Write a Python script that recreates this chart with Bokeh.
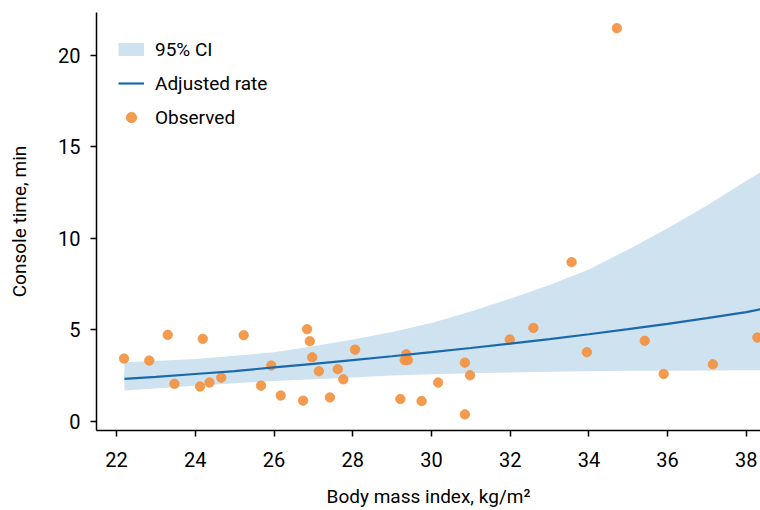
from bokeh.plotting import figure
from bokeh.models import Range1d, FixedTicker, Legend, LegendItem
from bokeh.embed import file_html
from bokeh.resources import INLINE

# Observed points
obs_bmi = [22.19, 22.83, 23.30, 23.47, 24.12, 24.19, 24.36, 24.66, 25.23, 25.67,
           25.93, 26.17, 26.74, 26.84, 26.91, 26.97, 27.14, 27.42, 27.62, 27.76,
           28.06, 29.36, 29.32, 29.40, 29.21, 29.75, 30.17, 30.85, 30.98, 30.85,
           31.99, 32.59, 33.56, 33.95, 35.42, 35.90, 37.15, 38.28, 34.71]
obs_time = [3.43, 3.32, 4.73, 2.05, 1.90, 4.51, 2.12, 2.39, 4.71, 1.95,
            3.05, 1.41, 1.13, 5.04, 4.38, 3.50, 2.74, 1.31, 2.85, 2.30,
            3.92, 3.67, 3.35, 3.35, 1.22, 1.11, 2.12, 3.21, 2.52, 0.38,
            4.47, 5.11, 8.70, 3.78, 4.40, 2.59, 3.12, 4.58, 21.49]

# Fitted curve and 95% CI
fit_bmi = [22.2, 23, 24, 25, 26, 27, 28, 29, 30, 31, 32, 33, 34, 35, 36, 37, 38, 38.36]
fit_rate = [2.32, 2.43, 2.59, 2.75, 2.95, 3.14, 3.35, 3.56, 3.78, 4.01, 4.25, 4.50,
            4.76, 5.04, 5.33, 5.64, 5.97, 6.13]
ci_low = [1.68, 1.80, 1.95, 2.08, 2.20, 2.30, 2.40, 2.50, 2.57, 2.63, 2.67, 2.71,
          2.74, 2.76, 2.77, 2.78, 2.80, 2.80]
ci_high = [3.23, 3.30, 3.41, 3.58, 3.78, 4.10, 4.48, 4.88, 5.38, 6.00, 6.70, 7.45,
           8.30, 9.40, 10.55, 11.80, 13.15, 13.62]

x_ticks = [22, 24, 26, 28, 30, 32, 34, 36, 38]
y_ticks = [0, 5, 10, 15, 20]

FONT = "Roboto"
BAND = "#cfe2f0"

p = figure(width=760, height=510, output_backend="svg", toolbar_location=None,
           x_range=Range1d(21.49, 38.36), y_range=Range1d(-0.5, 22.35),
           min_border_left=96, min_border_right=0, min_border_top=12,
           min_border_bottom=80)
p.outline_line_color = None
p.xgrid.visible = False
p.ygrid.visible = False

# legend swatch for the CI band: a thick line along the fit, fully hidden beneath the band
ci_key = p.line(x=fit_bmi, y=fit_rate, line_color=BAND, line_width=13)
band = p.varea(x=fit_bmi, y1=ci_low, y2=ci_high, fill_color=BAND, fill_alpha=1.0)
pts = p.scatter(x=obs_bmi, y=obs_time, size=9.5, fill_color="#f39240", fill_alpha=0.92,
                line_color="#f0903c", line_alpha=0.7, line_width=1)
ln = p.line(x=fit_bmi, y=fit_rate, line_color="#1a69ad", line_width=2.2)

for ax in (p.xaxis[0], p.yaxis[0]):
    ax.axis_line_color = "black"
    ax.axis_line_width = 1.5
    ax.major_tick_line_color = "black"
    ax.major_tick_line_width = 1.5
    ax.major_tick_in = 0
    ax.major_tick_out = 6
    ax.minor_tick_line_color = None
    ax.major_label_text_font = FONT
    ax.major_label_text_font_size = "20px"
    ax.major_label_text_color = "black"
    ax.axis_label_text_font = FONT
    ax.axis_label_text_font_size = "19px"
    ax.axis_label_text_font_style = "normal"
    ax.axis_label_text_color = "black"

p.xaxis[0].ticker = FixedTicker(ticks=x_ticks)
p.yaxis[0].ticker = FixedTicker(ticks=y_ticks)
p.xaxis[0].axis_label = "Body mass index, kg/m²"
p.yaxis[0].axis_label = "Console time, min"
p.xaxis[0].major_label_standoff = 15
p.xaxis[0].axis_label_standoff = 15
p.yaxis[0].major_label_standoff = 10
p.yaxis[0].axis_label_standoff = 24

legend = Legend(items=[LegendItem(label="95% CI", renderers=[ci_key]),
                       LegendItem(label="Adjusted rate", renderers=[ln]),
                       LegendItem(label="Observed", renderers=[pts])],
                location=(22, 300), padding=0, margin=0, spacing=8,
                glyph_width=26, glyph_height=26, label_height=26,
                label_standoff=11, label_text_font=FONT,
                label_text_font_size="19px", label_text_color="black",
                border_line_color=None, background_fill_alpha=0)
p.add_layout(legend, "center")

open("out.html", "w").write(file_html(p, INLINE))
